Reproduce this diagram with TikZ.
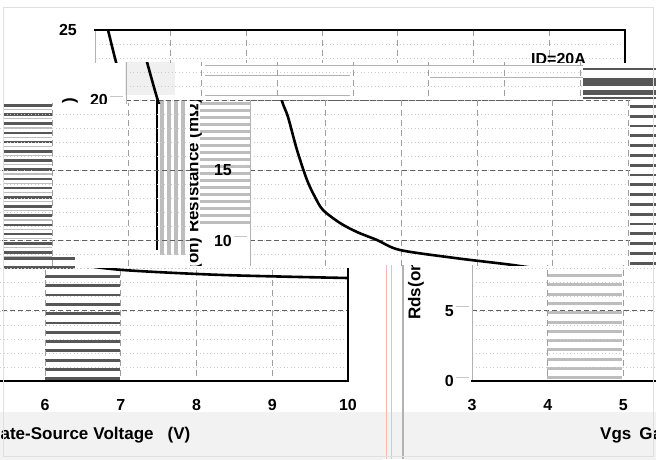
\documentclass[tikz,border=0pt]{standalone}
\usepackage{fontspec}
\setmainfont{Liberation Sans}
\definecolor{bar}{HTML}{575757}
\definecolor{lbar}{HTML}{BDBDBD}
\definecolor{bgl}{HTML}{F2F2F2}
\newcommand{\labfont}{\fontsize{16}{19}\selectfont\bfseries}
\newcommand{\ytfont}{\fontsize{17}{20}\selectfont\bfseries}
\tikzset{
 minorgrid/.style={draw=gray!40, line width=0.6pt, dash pattern=on 1pt off 2.5pt},
 majorgrid/.style={draw=gray!75!black, line width=1pt, dash pattern=on 5pt off 3pt},
 vgrid/.style={draw=gray!75, line width=0.9pt, dash pattern=on 6pt off 4pt},
 rcurve/.style={draw=black, line width=2.6pt},
 framestroke/.style={draw=black, line width=2pt},
 ylab/.style={anchor=east, inner sep=0pt, font=\labfont},
 xlab/.style={anchor=center, inner sep=0pt, font=\labfont},
 tickline/.style={draw=gray!45, line width=0.8pt},
 darkbar/.style={fill=bar},
 lightbar/.style={fill=lbar},
}
% the undisturbed chart, graphics only (pixel coordinates)
\newcommand{\origgraphics}{%
  \fill[bgl] (-800,412) rectangle (1500,470);
  \foreach \r in {1,...,24}{\draw[minorgrid] (95,{381-14.04*\r}) -- (625,{381-14.04*\r});}
  \foreach \r in {5,10,15,20}{\draw[majorgrid] (95,{381-14.04*\r}) -- (625,{381-14.04*\r});}
  \foreach \k in {1,...,6}{\draw[vgrid] ({95+75.714*\k},30) -- ({95+75.714*\k},381);}
  \begin{scope}
    \clip (95,30) rectangle (625,381);
    \draw[rcurve] plot[smooth] coordinates {(104,15) (108,30) (116,62) (127,101) (133,117) (142,150) (152,180) (160,197) (168,210) (185,223) (202,232) (222,240) (245,250) (300,258) (350,264) (400,270) (500,275) (625,278)};
  \end{scope}
  \draw[gray!60, line width=0.8pt] (95,30) -- (95,381);
  \draw[framestroke] (94,30) -- (626,30);
  \draw[framestroke] (94,381) -- (626,381);
  \draw[black, line width=1.6pt] (625,30) -- (625,381);
  \foreach \r in {0,5,...,20}{\draw[tickline] (79,{377-14.04*\r}) -- (92,{377-14.04*\r});}
}
% texts of the chart
\newcommand{\ylabeltext}[2]{\node[ylab] (#2) at (77,{381-14.04*#1}) {#1};}
\newcommand{\xlabeltext}[2]{\node[xlab] (#2) at ({95+75.714*(#1-3)},405) {#1};}
\newcommand{\xtitletext}[1]{\node[anchor=west, inner sep=0pt, font=\ytfont] (#1) at (223,435) {Vgs\hspace{8pt}Gate-Source\hspace{5pt}Voltage\hspace{14pt}(V)};}
\newcommand{\ytitletext}[2]{\node[rotate=90, inner sep=0pt, font=\ytfont] (#1) at (39,#2) {Rds(on) Resistance (mΩ)};}
\newcommand{\tilepiece}[6]{%
  \begin{scope}
    \clip (#1,#2) rectangle (#3,#4);
    \begin{scope}[shift={(#5,0)}]\origgraphics #6\end{scope}
  \end{scope}}
\begin{document}
\begin{tikzpicture}[x=1pt,y=-1pt]
\useasboundingbox (0,0) rectangle (656,459);
\fill[white] (0,0) rectangle (656,459);
% glitch stripes
\foreach \i in {0,...,16}{\fill[darkbar] (3,{104+9.2*\i}) rectangle (52,{106.6+9.2*\i});
  \fill[lightbar] (3,{109+9.2*\i}) rectangle (52,{110.2+9.2*\i});}
\fill[darkbar] (3,257) rectangle (75,259.5);
\fill[darkbar] (3,266) rectangle (75,268.5);
\foreach \i in {0,...,11}{\fill[darkbar] (45,{275+9.3*\i}) rectangle (120,{277.8+9.3*\i});}
\foreach \i in {0,...,3}{\fill[lightbar] ({160+7*\i},100) rectangle ({163.5+7*\i},255);}
\draw[black, line width=1.2pt] (157,100) -- (157,250);
\fill[gray!12] (125,62) rectangle (175,95);
\foreach \i in {0,...,17}{\fill[lbar] (200,{102+7*\i}) rectangle (250,{104.5+7*\i});}
\fill[darkbar] (583,68) rectangle (656,70);
\fill[darkbar] (583,78) rectangle (656,86);
\fill[darkbar] (583,90) rectangle (656,95);
\fill[darkbar] (583,97) rectangle (656,99);
\foreach \i in {0,...,16}{\fill[darkbar] (630,{105+9.8*\i}) rectangle (656,{107.8+9.8*\i});}
\foreach \i in {0,...,11}{\fill[lbar] (547,{274+9.3*\i}) rectangle (622,{277+9.3*\i});}
\draw[gray!60] (205,65) -- (583,65);
\draw[gray!60] (205,75) -- (350,75);
\draw[gray!60] (205,95) -- (350,95);
\draw[gray!60] (430,77) -- (583,77);
% displaced tiles of the chart
\tilepiece{0}{0}{656}{62}{0}{\ylabeltext{25}{ylA}
  \node[anchor=north west, inner sep=0pt, font=\labfont] (idlab) at (531,53) {ID=20A};}
\tilepiece{0}{62}{190}{103}{31}{\ylabeltext{20}{ylB}\ytitletext{ytA}{200}}
\tilepiece{190}{62}{583}{100}{31}{}
\tilepiece{190}{100}{630}{265}{155}{\ylabeltext{15}{ylC}\ylabeltext{10}{ylD}\ytitletext{ytB}{200}}
\tilepiece{0}{103}{190}{268}{-421}{}
\tilepiece{0}{268}{382}{418}{-277}{\xlabeltext{6}{xlA}\xlabeltext{7}{xlB}\xlabeltext{8}{xlC}\xlabeltext{9}{xlD}\xlabeltext{10}{xlE}}
\tilepiece{0}{418}{382}{459}{-275}{\xtitletext{xtA}}
\tilepiece{405}{265}{656}{459}{377}{\ylabeltext{5}{ylE}\ylabeltext{0}{ylF}\xlabeltext{3}{xlF}\xlabeltext{4}{xlG}\xlabeltext{5}{xlH}\xtitletext{xtB}\ytitletext{ytC}{218}}
\fill[bgl] (382,412) rectangle (405,459);
\draw[red!30, line width=0.8pt] (386,265) -- (386,459);
\draw[gray!40, line width=0.8pt] (391,265) -- (391,459);
\draw[gray!60, line width=1.5pt] (403,265) -- (403,459);
\draw[gray!25] (3,7) rectangle (653,456);
\end{tikzpicture}
\end{document}
